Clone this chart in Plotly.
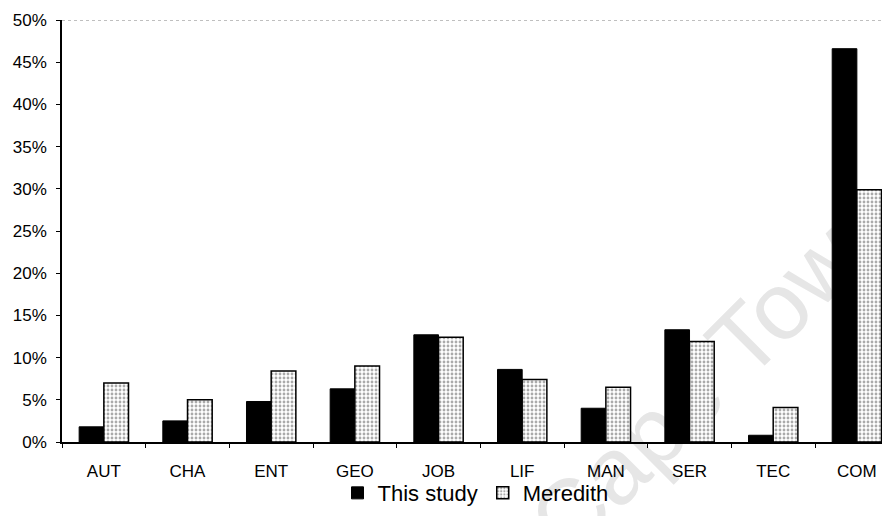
import plotly.graph_objects as go

categories = ["AUT", "CHA", "ENT", "GEO", "JOB", "LIF", "MAN", "SER", "TEC", "COM"]
this_study = [0.018, 0.025, 0.048, 0.063, 0.127, 0.086, 0.040, 0.133, 0.008, 0.466]
meredith = [0.070, 0.050, 0.084, 0.090, 0.124, 0.074, 0.065, 0.119, 0.041, 0.299]
y_ticks = [0, 0.05, 0.10, 0.15, 0.20, 0.25, 0.30, 0.35, 0.40, 0.45, 0.50]

font_family = "Liberation Sans, Arial, sans-serif"

fig = go.Figure()
fig.add_trace(go.Bar(
    x=categories, y=this_study, name="This study",
    marker=dict(color="black", line=dict(color="black", width=1)),
))
fig.add_trace(go.Bar(
    x=categories, y=meredith, name="Meredith",
    marker=dict(
        color="white",
        line=dict(color="black", width=1.5),
        pattern=dict(shape=".", fgcolor="#555555", bgcolor="white", size=4, solidity=0.4),
    ),
))

fig.add_shape(type="line", xref="paper", yref="y", x0=0, x1=1, y0=0.5, y1=0.5,
              line=dict(color="#808080", width=1, dash="dot"))

# faint watermark behind the bars
fig.add_shape(type="rect", xref="paper", yref="paper", x0=0.70, x1=0.86, y0=0.105, y1=0.265,
              line=dict(width=0), fillcolor="rgba(0,0,0,0)", layer="below",
              label=dict(text="Cape Town", textangle=-45, textposition="middle center",
                         font=dict(family=font_family, size=95, color="#e6e6e6")))

fig.update_layout(
    width=890, height=516,
    margin=dict(l=54, r=9, t=12, b=82),
    paper_bgcolor="white", plot_bgcolor="white",
    barmode="group", bargap=0.41, bargroupgap=0,
    font=dict(family=font_family, color="black"),
    showlegend=True,
    legend=dict(orientation="h", x=0.5, xanchor="center", y=-0.121, yanchor="middle",
                font=dict(size=22, family=font_family), itemwidth=30,
                bgcolor="rgba(0,0,0,0)"),
    xaxis=dict(
        type="category", range=[-0.5, 9.384], automargin=False,
        showline=True, linecolor="black", linewidth=1.5,
        ticks="outside", tickson="boundaries", ticklen=4, tickcolor="black",
        tickfont=dict(size=17), showgrid=False, ticklabelstandoff=13,
    ),
    yaxis=dict(
        range=[0, 0.5], tickvals=y_ticks, tickformat=".0%", automargin=False,
        showline=True, linecolor="black", linewidth=1.5,
        ticks="outside", ticklen=4, tickcolor="black",
        tickfont=dict(size=17), showgrid=False, zeroline=False,
        ticklabelstandoff=6,
    ),
)

fig.write_html("out.html")
